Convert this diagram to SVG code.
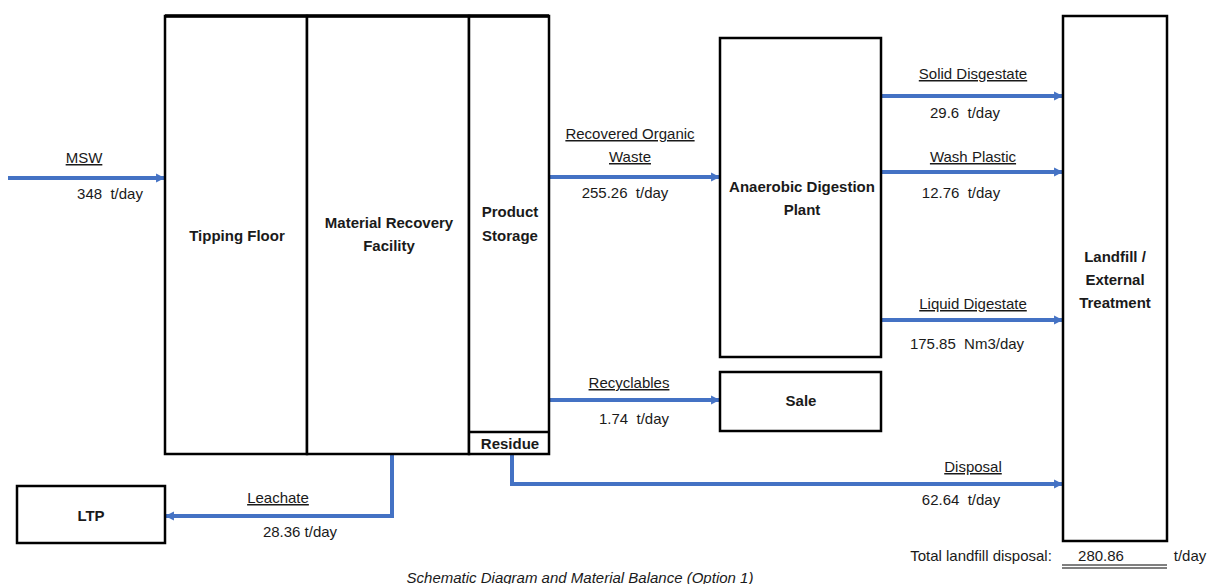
<svg xmlns="http://www.w3.org/2000/svg" width="1210" height="584" viewBox="0 0 1210 584">
<style>
.box{fill:#fff;stroke:#000;stroke-width:2.5}
.div{stroke:#000;stroke-width:2.5}
.t{font-family:"Liberation Sans",Arial,sans-serif;font-size:15px;fill:#1a1a1a;text-anchor:middle;white-space:pre}
.b{font-weight:bold}
.u{text-decoration:underline}
.flow{fill:none;stroke:#4472C4;stroke-width:4;marker-end:url(#ah)}
</style>
<defs>
<marker id="ah" viewBox="0 0 10 10" refX="9" refY="5" markerWidth="2.2" markerHeight="2.6" orient="auto" markerUnits="strokeWidth">
<path d="M0,0 L10,5 L0,10 z" fill="#4472C4"/>
</marker>
</defs>
<rect width="1210" height="584" fill="#fff"/>

<g id="connectors">
<line class="flow" x1="8" y1="178" x2="164" y2="178"/>
<line class="flow" x1="549" y1="177" x2="719" y2="177"/>
<line class="flow" x1="549" y1="400" x2="719" y2="400"/>
<line class="flow" x1="881" y1="96" x2="1062" y2="96"/>
<line class="flow" x1="881" y1="172" x2="1062" y2="172"/>
<line class="flow" x1="881" y1="320" x2="1062" y2="320"/>
<polyline class="flow" points="512,455 512,484 1062,484"/>
<polyline class="flow" points="392,455 392,516 166,516"/>
</g>

<g id="tipping-floor">
<rect class="box" x="165" y="16" width="142" height="438"/>
<text class="t b" x="237" y="241">Tipping Floor</text>
</g>
<g id="mrf">
<rect class="box" x="307" y="16" width="162" height="438"/>
<text class="t b" x="389" y="228">Material Recovery</text>
<text class="t b" x="389" y="251">Facility</text>
</g>
<g id="product-storage">
<rect class="box" x="469" y="16" width="80" height="438"/>
<line class="div" x1="469" y1="432" x2="549" y2="432"/>
<text class="t b" x="510" y="217">Product</text>
<text class="t b" x="510" y="241">Storage</text>
</g>
<g id="residue">
<text class="t b" x="510" y="449">Residue</text>
</g>
<line x1="165" y1="16" x2="549" y2="16" stroke="#000" stroke-width="3.5"/>

<g id="ad-plant">
<rect class="box" x="720" y="38" width="161" height="319"/>
<text class="t b" x="802" y="192">Anaerobic Digestion</text>
<text class="t b" x="802" y="215">Plant</text>
</g>
<g id="sale">
<rect class="box" x="720" y="372" width="161" height="59"/>
<text class="t b" x="801" y="406">Sale</text>
</g>
<g id="landfill">
<rect class="box" x="1063" y="16" width="104" height="525"/>
<text class="t b" x="1115" y="262">Landfill /</text>
<text class="t b" x="1115" y="285">External</text>
<text class="t b" x="1115" y="308">Treatment</text>
</g>
<g id="ltp">
<rect class="box" x="17" y="486" width="148" height="57"/>
<text class="t b" x="91" y="521">LTP</text>
</g>

<g id="labels">
<text class="t u" x="84" y="163">MSW</text>
<text class="t" x="110" y="199">348  t/day</text>
<text class="t u" x="630" y="139">Recovered Organic</text>
<text class="t u" x="630" y="162">Waste</text>
<text class="t" x="625" y="198">255.26  t/day</text>
<text class="t u" x="629" y="388">Recyclables</text>
<text class="t" x="634" y="424">1.74  t/day</text>
<text class="t u" x="973" y="79">Solid Disgestate</text>
<text class="t" x="965" y="118">29.6  t/day</text>
<text class="t u" x="973" y="162">Wash Plastic</text>
<text class="t" x="961" y="198">12.76  t/day</text>
<text class="t u" x="973" y="309">Liquid Digestate</text>
<text class="t" x="967" y="349">175.85  Nm3/day</text>
<text class="t u" x="973" y="472">Disposal</text>
<text class="t" x="961" y="505">62.64  t/day</text>
<text class="t u" x="278" y="503">Leachate</text>
<text class="t" x="300" y="537">28.36 t/day</text>
<text class="t" x="981" y="561">Total landfill disposal:</text>
<text class="t" x="1101" y="561">280.86</text>
<text class="t" x="1190" y="561">t/day</text>
<line x1="1062" y1="565" x2="1167" y2="565" stroke="#000" stroke-width="1"/>
<line x1="1062" y1="568" x2="1167" y2="568" stroke="#000" stroke-width="1"/>
<text class="t" x="580" y="583" font-size="14" font-style="italic">Schematic Diagram and Material Balance (Option 1)</text>
</g>
</svg>
